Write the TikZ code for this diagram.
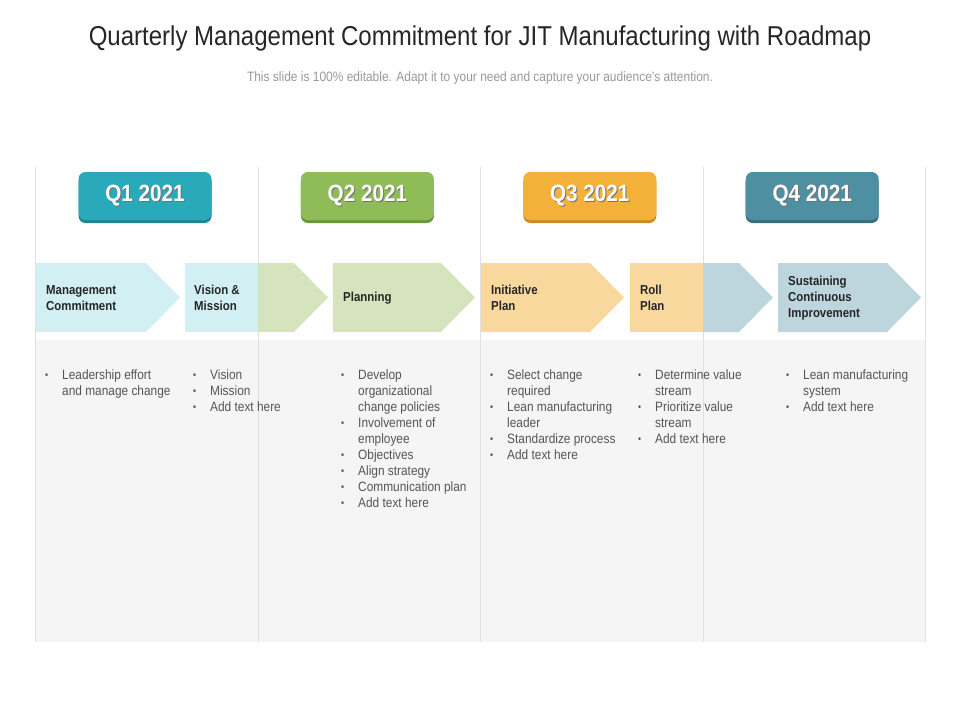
\documentclass[tikz,border=0pt]{standalone}
\usepackage{fontspec}
\setmainfont[FakeStretch=0.88]{Liberation Sans}
\usetikzlibrary{positioning}
\usetikzlibrary{shadows}

\definecolor{qone}{HTML}{29A9B9}
\definecolor{qonedk}{HTML}{1D8593}
\definecolor{qtwo}{HTML}{8FBC57}
\definecolor{qtwodk}{HTML}{6C963C}
\definecolor{qthree}{HTML}{F4B13A}
\definecolor{qthreedk}{HTML}{CC8C20}
\definecolor{qfour}{HTML}{4E8FA1}
\definecolor{qfourdk}{HTML}{386E7D}
\definecolor{onelt}{HTML}{D2EFF4}
\definecolor{twolt}{HTML}{D6E4BE}
\definecolor{threelt}{HTML}{F9D89E}
\definecolor{fourlt}{HTML}{BDD5DD}
\definecolor{panel}{HTML}{F5F5F5}
\definecolor{rule}{HTML}{E0E0E0}
\definecolor{bodytext}{HTML}{555555}

\newcommand{\bu}{\raisebox{1pt}{\fontsize{10}{10}\selectfont\textbullet}}
\newcommand{\bitems}[1]{\begin{tabular}[t]{@{}p{17pt}@{}l@{}}#1\end{tabular}}

\tikzset{
	qbox/.style = {rounded corners = 7pt, minimum width = 133pt, minimum height = 48pt,
		text = white, font = \bfseries\fontsize{23.5}{26}\selectfont},
	qtext/.style = {text = black!55, font = \bfseries\fontsize{23.5}{26}\selectfont},
	steplabel/.style = {anchor = west, align = left, inner sep = 0pt,
		font = \bfseries\fontsize{13}{16}\selectfont, text = black!85},
	itemlist/.style = {anchor = base west, inner sep = 0pt, text = bodytext,
		font = \fontsize{13.5}{16}\selectfont},
}

\begin{document}
\begin{tikzpicture}[x = 1pt, y = -1pt]
	\useasboundingbox (0,0) rectangle (960,720);
	
	% heading
	\node[font = \fontsize{27.3}{30}\selectfont, text = black!85] (title) at (480,38.5) {Quarterly Management Commitment for JIT Manufacturing with Roadmap};
	\node[font = \fontsize{13.6}{16}\selectfont, text = black!40] (subtitle) at (480,78) {This slide is 100\% editable. Adapt it to your need and capture your audience's attention.};
	
	% columns
	\fill[panel] (35,340) rectangle (925,642);
	\draw[rule] (35,167) -- (35,642);
	\draw[rule] (258,167) -- (258,642);
	\draw[rule] (480,167) -- (480,642);
	\draw[rule] (703,167) -- (703,642);
	\draw[rule] (925,167) -- (925,642);
	
	% quarters
	\node[qbox, fill = qone, general shadow = {shadow yshift = -3pt, fill = qonedk}] (Q1) at (145,196) {};
	\node[qbox, fill = qtwo, general shadow = {shadow yshift = -3pt, fill = qtwodk}, right = 89pt of Q1] (Q2) {};
	\node[qbox, fill = qthree, general shadow = {shadow yshift = -3pt, fill = qthreedk}, right = 89pt of Q2] (Q3) {};
	\node[qbox, fill = qfour, general shadow = {shadow yshift = -3pt, fill = qfourdk}, right = 89pt of Q3] (Q4) {};
	\node[qtext, xshift = 1pt, yshift = -1pt] (Q1shade) at (Q1) {Q1 2021};
	\node[qtext, xshift = 1pt, yshift = -1pt] (Q2shade) at (Q2) {Q2 2021};
	\node[qtext, xshift = 1pt, yshift = -1pt] (Q3shade) at (Q3) {Q3 2021};
	\node[qtext, xshift = 1pt, yshift = -1pt] (Q4shade) at (Q4) {Q4 2021};
	\node[qtext, text = white] (Q1label) at (Q1) {Q1 2021};
	\node[qtext, text = white] (Q2label) at (Q2) {Q2 2021};
	\node[qtext, text = white] (Q3label) at (Q3) {Q3 2021};
	\node[qtext, text = white] (Q4label) at (Q4) {Q4 2021};
	
	% chevrons
	\fill[onelt] (36,263) -- (146,263) -- (180,297.5) -- (146,332) -- (36,332) -- cycle;
	\fill[onelt] (185,263) rectangle (258,332);
	\fill[twolt] (258,263) -- (294,263) -- (328,297.5) -- (294,332) -- (258,332) -- cycle;
	\fill[twolt] (333,263) -- (441,263) -- (475,297.5) -- (441,332) -- (333,332) -- cycle;
	\fill[threelt] (481,263) -- (590,263) -- (624,297.5) -- (590,332) -- (481,332) -- cycle;
	\fill[threelt] (630,263) rectangle (703,332);
	\fill[fourlt] (703,263) -- (739,263) -- (773,297.5) -- (739,332) -- (703,332) -- cycle;
	\fill[fourlt] (778,263) -- (887,263) -- (921,297.5) -- (887,332) -- (778,332) -- cycle;
	
	\node[steplabel] (mgmt) at (46,298) {Management\\Commitment};
	\node[steplabel] (vision) at (194,298) {Vision \&\\Mission};
	\node[steplabel] (planning) at (343,298) {Planning};
	\node[steplabel] (initiative) at (491,298) {Initiative\\Plan};
	\node[steplabel] (roll) at (640,298) {Roll\\Plan};
	\node[steplabel] (sustain) at (788,298) {Sustaining\\Continuous\\Improvement};
	
	% bullet lists
	\node[itemlist] (list1) at (45,379) {\bitems{\bu & Leadership effort\\ & and manage change}};
	\node[itemlist] (list2) at (193,379) {\bitems{\bu & Vision\\ \bu & Mission\\ \bu & Add text here}};
	\node[itemlist] (list3) at (341,379) {\bitems{\bu & Develop\\ & organizational\\ & change policies\\ \bu & Involvement of\\ & employee\\ \bu & Objectives\\ \bu & Align strategy\\ \bu & Communication plan\\ \bu & Add text here}};
	\node[itemlist] (list4) at (490,379) {\bitems{\bu & Select change\\ & required\\ \bu & Lean manufacturing\\ & leader\\ \bu & Standardize process\\ \bu & Add text here}};
	\node[itemlist] (list5) at (638,379) {\bitems{\bu & Determine value\\ & stream\\ \bu & Prioritize value\\ & stream\\ \bu & Add text here}};
	\node[itemlist] (list6) at (786,379) {\bitems{\bu & Lean manufacturing\\ & system\\ \bu & Add text here}};
\end{tikzpicture}
\end{document}
